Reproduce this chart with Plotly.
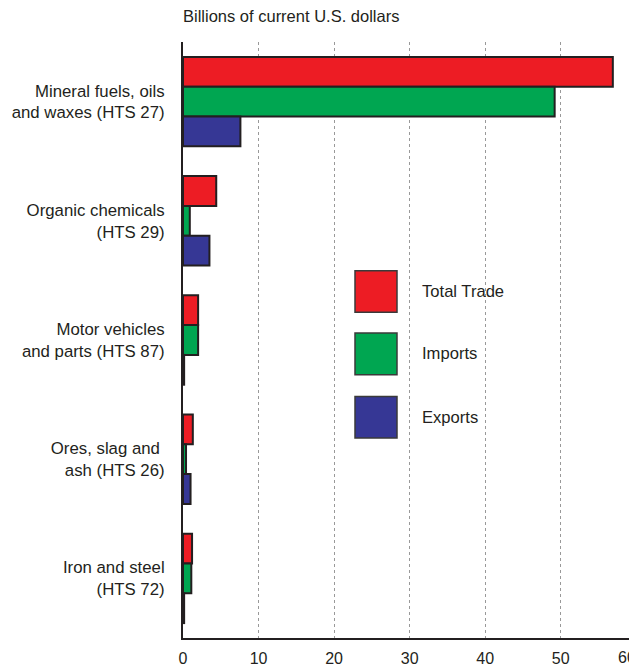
import plotly.graph_objects as go

categories = ["Mineral fuels, oils<br>and waxes (HTS 27)",
              "Organic chemicals<br>(HTS 29)",
              "Motor vehicles<br>and parts (HTS 87)",
              "Ores, slag and <br>ash (HTS 26)",
              "Iron and steel<br>(HTS 72)"]
series_names = ["Total Trade", "Imports", "Exports"]
total_trade = [56.9, 4.4, 2.0, 1.3, 1.2]
imports = [49.2, 0.9, 2.0, 0.4, 1.1]
exports = [7.6, 3.5, 0.15, 1.0, 0.15]
colors = ["#ED1C24", "#00A651", "#363795"]
x_ticks = [0, 10, 20, 30, 40, 50, 60]

fig = go.Figure()
for name, vals, col in zip(series_names, [total_trade, imports, exports], colors):
    fig.add_trace(go.Bar(
        y=categories, x=vals, name=name, orientation="h",
        marker=dict(color=col, line=dict(color="#231F20", width=2)),
        showlegend=False,
    ))

OFF = 8  # page body margin
W, H = 637 - OFF, 667 - OFF
L, R, T, B = 183 - OFF, 0, 42 - OFF, 23
pw, ph = W - L - R, H - T - B

def px_x(p):
    return (p - OFF - L) / pw

def px_y(p):
    return (H - B - (p - OFF)) / ph

shapes = []
annotations = []
leg_tops = [273, 336, 400]
for name, col, top in zip(series_names, colors, leg_tops):
    shapes.append(dict(type="rect", xref="paper", yref="paper",
                       x0=px_x(355), x1=px_x(397), y0=px_y(top + 42), y1=px_y(top),
                       fillcolor=col, line=dict(color="#3a3a3a", width=1.5)))
    annotations.append(dict(xref="paper", yref="paper", x=px_x(420), y=px_y(top + 21),
                            text=name, showarrow=False, xanchor="left", yanchor="middle",
                            font=dict(size=16.6, color="#231F20")))
annotations.append(dict(xref="paper", yref="paper", x=px_x(181), y=px_y(16),
                        text="Billions of current U.S. dollars", showarrow=False,
                        xanchor="left", yanchor="middle",
                        font=dict(size=16.5, color="#231F20")))
# last tick label sits on the right edge of the page
annotations.append(dict(xref="paper", yref="paper", x=1, y=px_y(664),
                        text=str(x_ticks[-1]), showarrow=False, xanchor="right",
                        yanchor="middle", borderpad=0,
                        font=dict(size=16, color="#231F20")))

fig.update_layout(
    width=W, height=H,
    margin=dict(l=L, r=R, t=T, b=B, pad=0),
    paper_bgcolor="white", plot_bgcolor="white",
    barmode="group", bargap=0.25, bargroupgap=0,
    font=dict(family="Liberation Sans, Arial, sans-serif", size=16.8, color="#231F20"),
    shapes=shapes, annotations=annotations,
    xaxis=dict(range=[0, 60.1], tickvals=x_ticks,
               ticktext=[str(v) for v in x_ticks[:-1]] + [""],
               showgrid=True, gridcolor="#999999",
               griddash="dot", gridwidth=1, zeroline=False, showline=True,
               linecolor="#231F20", linewidth=2, ticks="", tickfont=dict(size=16),
               ticklabelstandoff=5),
    yaxis=dict(autorange="reversed", showgrid=False, zeroline=False, showline=True,
               linecolor="#231F20", linewidth=2, ticks="", tickfont=dict(size=16.8),
               ticklabelstandoff=13),
)

fig.write_html("out.html")
